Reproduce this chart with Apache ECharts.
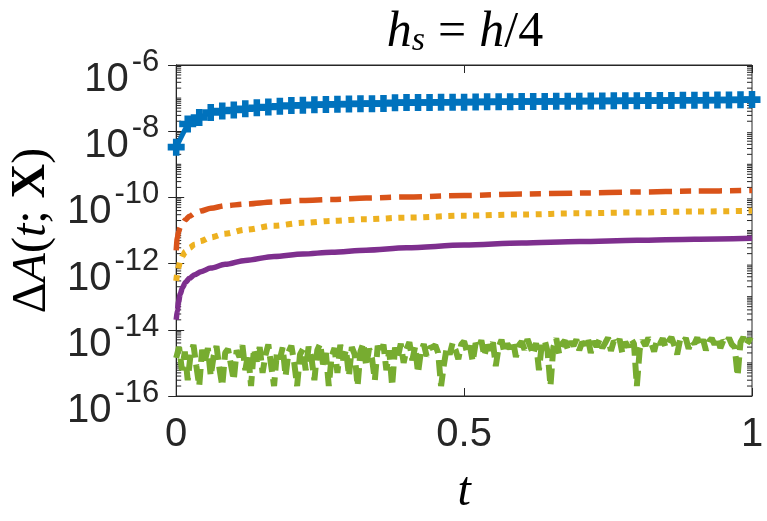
<!DOCTYPE html>
<html>
<head>
<meta charset="utf-8">
<script src="https://cdn.jsdelivr.net/npm/echarts@6/dist/echarts.min.js"></script>
<style>
html, body { margin: 0; padding: 0; background: #fff; }
#chart { width: 767px; height: 521px; }
</style>
</head>
<body>
<div id="chart"></div>
<script>
// x values (t)
const blueT = [0, 0.02, 0.04, 0.06, 0.08, 0.1, 0.12, 0.14, 0.16, 0.18, 0.2, 0.22, 0.24, 0.26, 0.28, 0.3, 0.32, 0.34, 0.36, 0.38,
  0.4, 0.42, 0.44, 0.46, 0.48, 0.5, 0.52, 0.54, 0.56, 0.58, 0.6, 0.62, 0.64, 0.66, 0.68, 0.7, 0.72, 0.74, 0.76, 0.78,
  0.8, 0.82, 0.84, 0.86, 0.88, 0.9, 0.92, 0.94, 0.96, 0.98, 1];
const smoothT = [0, 0.002, 0.004, 0.007, 0.011, 0.016, 0.023, 0.032, 0.043, 0.06, 0.085, 0.12, 0.17, 0.22, 0.27, 0.33, 0.4, 0.5, 0.6, 0.7, 0.8, 0.9, 1];
const greenT = [
  0, 0.005, 0.01, 0.015, 0.02, 0.025, 0.03, 0.035, 0.04, 0.045, 0.05, 0.055, 0.06, 0.065, 0.07, 0.075, 0.08, 0.085, 0.09, 0.095,
  0.1, 0.105, 0.11, 0.115, 0.12, 0.125, 0.13, 0.135, 0.14, 0.145, 0.15, 0.155, 0.16, 0.165, 0.17, 0.175, 0.18, 0.185, 0.19, 0.195,
  0.2, 0.205, 0.21, 0.215, 0.22, 0.225, 0.23, 0.235, 0.24, 0.245, 0.25, 0.255, 0.26, 0.265, 0.27, 0.275, 0.28, 0.285, 0.29, 0.295,
  0.3, 0.305, 0.31, 0.315, 0.32, 0.325, 0.33, 0.335, 0.34, 0.345, 0.35, 0.355, 0.36, 0.365, 0.37, 0.375, 0.38, 0.385, 0.39, 0.395,
  0.4, 0.405, 0.41, 0.415, 0.42, 0.425, 0.43, 0.435, 0.44, 0.445, 0.45, 0.455, 0.46, 0.465, 0.47, 0.475, 0.48, 0.485, 0.49, 0.495,
  0.5, 0.505, 0.51, 0.515, 0.52, 0.525, 0.53, 0.535, 0.54, 0.545, 0.55, 0.555, 0.56, 0.565, 0.57, 0.575, 0.58, 0.585, 0.59, 0.595,
  0.6, 0.605, 0.61, 0.615, 0.62, 0.625, 0.63, 0.635, 0.64, 0.645, 0.65, 0.655, 0.66, 0.665, 0.67, 0.675, 0.68, 0.685, 0.69, 0.695,
  0.7, 0.705, 0.71, 0.715, 0.72, 0.725, 0.73, 0.735, 0.74, 0.745, 0.75, 0.755, 0.76, 0.765, 0.77, 0.775, 0.78, 0.785, 0.79, 0.795,
  0.8, 0.805, 0.81, 0.815, 0.82, 0.825, 0.83, 0.835, 0.84, 0.845, 0.85, 0.855, 0.86, 0.865, 0.87, 0.875, 0.88, 0.885, 0.89, 0.895,
  0.9, 0.905, 0.91, 0.915, 0.92, 0.925, 0.93, 0.935, 0.94, 0.945, 0.95, 0.955, 0.96, 0.965, 0.97, 0.975, 0.98, 0.985, 0.99, 0.995,
  1];

// series values
const blue = [3.3e-9, 1.64e-8, 2.6e-8, 3.65e-8, 4.07e-8, 4.37e-8, 4.8e-8, 5.1e-8, 5.35e-8, 5.7e-8, 6.0e-8, 6.1e-8, 6.3e-8, 6.45e-8, 6.5e-8, 6.6e-8, 6.75e-8, 6.8e-8, 6.9e-8, 7.2e-8,
  7.3e-8, 7.35e-8, 7.4e-8, 7.45e-8, 7.5e-8, 7.55e-8, 7.6e-8, 7.7e-8, 7.75e-8, 7.8e-8, 7.85e-8, 7.9e-8, 7.95e-8, 8.0e-8, 8.05e-8, 8.1e-8, 8.15e-8, 8.2e-8, 8.25e-8, 8.3e-8,
  8.35e-8, 8.4e-8, 8.45e-8, 8.5e-8, 8.55e-8, 8.6e-8, 8.65e-8, 8.7e-8, 8.8e-8, 8.9e-8, 9.0e-8];
const orange = [2.5e-12, 6.0e-12, 9.0e-12, 1.25e-11, 1.65e-11, 2.1e-11, 2.7e-11, 3.3e-11, 3.9e-11, 4.7e-11, 5.6e-11, 6.3e-11, 7.3e-11, 8.1e-11, 8.65e-11, 9.6e-11, 1.03e-10, 1.14e-10, 1.26e-10, 1.35e-10, 1.45e-10, 1.55e-10, 1.63e-10];
const yellow = [3.0e-13, 5.0e-13, 7.8e-13, 1.2e-12, 1.7e-12, 2.3e-12, 3.0e-12, 3.8e-12, 4.8e-12, 6.2e-12, 8.0e-12, 1.05e-11, 1.4e-11, 1.7e-11, 1.95e-11, 2.2e-11, 2.45e-11, 2.8e-11, 3.05e-11, 3.3e-11, 3.5e-11, 3.75e-11, 3.95e-11];
const purple = [2.0e-14, 3.8e-14, 7.0e-14, 1.2e-13, 1.9e-13, 2.7e-13, 3.6e-13, 4.6e-13, 5.7e-13, 7.3e-13, 9.5e-13, 1.25e-12, 1.65e-12, 1.95e-12, 2.2e-12, 2.55e-12, 3.0e-12, 3.65e-12, 4.2e-12, 4.65e-12, 5.05e-12, 5.45e-12, 5.8e-12];
// green noise floor, in units of 1e-16
const greenE16 = [
  14, 30, 6, 22, 3, 18, 35, 8, 2, 25, 12, 28, 4, 16, 32, 7, 2, 20, 26, 9,
  3, 24, 15, 34, 6, 19, 2, 27, 11, 30, 5, 17, 36, 8, 2, 22, 13, 29, 4, 21,
  33, 10, 2, 18, 26, 6, 31, 14, 3, 24, 38, 9, 20, 2, 16, 28, 5, 35, 12, 25,
  4, 30, 18, 2, 22, 40, 8, 27, 14, 3, 33, 19, 36, 6, 24, 2, 29, 15, 38, 10,
  26, 42, 12, 31, 5, 22, 37, 16, 28, 30, 34, 20, 2, 9, 30, 18, 40, 25, 13, 36,
  45, 21, 33, 11, 39, 28, 48, 16, 35, 24, 42, 8, 30, 50, 20, 38, 27, 46, 15, 34,
  44, 25, 52, 31, 18, 40, 6, 36, 48, 22, 2, 30, 55, 19, 38, 47, 26, 44, 33, 51,
  24, 42, 35, 56, 20, 45, 31, 50, 28, 40, 58, 23, 46, 36, 52, 19, 43, 30, 54, 38,
  2, 25, 48, 33, 57, 40, 22, 50, 37, 55, 29, 45, 60, 34, 18, 49, 41, 56, 27, 47,
  38, 58, 32, 51, 24, 44, 55, 36, 60, 28, 47, 39, 57, 36, 30, 4, 42, 59, 35, 50,
  45];

// tick labels
const xTickLabels = { 0: '0', 0.5: '0.5', 1: '1' };
const yDecades = [-16, -15, -14, -13, -12, -11, -10, -9, -8, -7, -6];

const axisColor = '#262626';
const sansFont = 'Liberation Sans';
const serifFont = 'Liberation Serif';

function pairs(ts, vs, unit) {
  return ts.map((t, i) => [t, vs[i] * (unit || 1)]);
}

// log-spaced minor ticks (2..9 in each decade, plus unlabeled odd decades)
const minorTicks = [];
yDecades.forEach(function (e) {
  if (e === -6) return;
  if (e % 2 !== 0) minorTicks.push([0, Math.pow(10, e)]);
  for (let k = 2; k <= 9; k++) minorTicks.push([0, k * Math.pow(10, e)]);
});

const chart = echarts.init(document.getElementById('chart'));

const plusSymbol = 'path://M4,0H9V4H13V9H9V13H4V9H0V4H4Z';

const option = {
  animation: false,
  backgroundColor: '#fff',
  title: {
    text: '{i|h}{sub|s}{eq|=}{i|h}{n|/4}',
    left: 460,
    top: 3,
    textAlign: 'center',
    textStyle: {
      rich: {
        i: { fontFamily: serifFont, fontStyle: 'italic', fontWeight: 'normal', fontSize: 50, color: '#000', lineHeight: 50, padding: [0, 0, 10, 0], verticalAlign: 'top' },
        n: { fontFamily: serifFont, fontWeight: 'normal', fontSize: 50, color: '#000', lineHeight: 50, padding: [0, 0, 10, 0], verticalAlign: 'top' },
        eq: { fontFamily: serifFont, fontWeight: 'normal', fontSize: 50, color: '#000', lineHeight: 50, padding: [0, 13, 10, 13], verticalAlign: 'top' },
        sub: { fontFamily: serifFont, fontStyle: 'italic', fontWeight: 'normal', fontSize: 34, color: '#000', lineHeight: 34, verticalAlign: 'bottom' }
      }
    }
  },
  grid: {
    left: 172,
    right: 15,
    top: 65,
    bottom: 120,
    show: true,
    borderColor: axisColor,
    borderWidth: 1,
    backgroundColor: 'transparent'
  },
  xAxis: [
    {
      type: 'value',
      min: 0,
      max: 1,
      interval: 0.5,
      position: 'bottom',
      name: 't',
      nameLocation: 'middle',
      nameGap: 72,
      nameTextStyle: { fontFamily: serifFont, fontStyle: 'italic', fontSize: 48, color: '#000' },
      axisLine: { lineStyle: { color: axisColor, width: 1 } },
      axisTick: { inside: true, length: 8, lineStyle: { color: axisColor } },
      axisLabel: {
        fontFamily: sansFont,
        fontSize: 40,
        color: axisColor,
        margin: 19,
        formatter: function (v) { return xTickLabels[v] !== undefined ? xTickLabels[v] : ''; }
      },
      splitLine: { show: false }
    },
    {
      type: 'value',
      min: 0,
      max: 1,
      interval: 0.5,
      position: 'top',
      axisLine: { lineStyle: { color: axisColor, width: 1 } },
      axisTick: { inside: true, length: 8, lineStyle: { color: axisColor } },
      axisLabel: { show: false },
      splitLine: { show: false }
    }
  ],
  yAxis: [
    {
      type: 'log',
      logBase: 10,
      min: 1e-16,
      max: 1e-6,
      interval: 2,
      position: 'left',
      name: '{n|\u0394}{i|A}{n|(}{i|t}{n|; }{b|X}{n|)}',
      nameLocation: 'middle',
      nameRotate: 90,
      nameGap: 118,
      nameTextStyle: {
        rich: {
          n: { fontFamily: serifFont, fontSize: 48, color: '#000' },
          i: { fontFamily: serifFont, fontStyle: 'italic', fontSize: 48, color: '#000' },
          b: { fontFamily: serifFont, fontWeight: 'bold', fontSize: 48, color: '#000' }
        }
      },
      axisLine: { show: true, lineStyle: { color: axisColor, width: 1 } },
      axisTick: { inside: true, length: 8, lineStyle: { color: axisColor } },
      axisLabel: {
        margin: 17,
        padding: [30, 0, 0, 0],
        formatter: function (v) {
          return '{b|10}{s|' + Math.round(Math.log10(v)) + '}';
        },
        rich: {
          b: { fontFamily: sansFont, fontSize: 40, color: axisColor, lineHeight: 40, verticalAlign: 'bottom' },
          s: { fontFamily: sansFont, fontSize: 31, color: axisColor, lineHeight: 31, padding: [0, 0, 22, 3], verticalAlign: 'bottom' }
        }
      },
      splitLine: { show: false }
    },
    {
      type: 'log',
      logBase: 10,
      min: 1e-16,
      max: 1e-6,
      interval: 2,
      position: 'right',
      axisLine: { show: true, lineStyle: { color: axisColor, width: 1 } },
      axisTick: { inside: true, length: 8, lineStyle: { color: axisColor } },
      axisLabel: { show: false },
      splitLine: { show: false }
    }
  ],
  series: [
    {
      type: 'custom',
      silent: true,
      xAxisIndex: 0,
      yAxisIndex: 0,
      data: minorTicks,
      renderItem: function (params, api) {
        const v = api.value(1);
        const l = api.coord([0, v]);
        const r = api.coord([1, v]);
        const st = { stroke: axisColor, lineWidth: 1 };
        return {
          type: 'group',
          children: [
            { type: 'line', shape: { x1: l[0], y1: l[1], x2: l[0] + 5, y2: l[1] }, style: st },
            { type: 'line', shape: { x1: r[0] - 5, y1: r[1], x2: r[0], y2: r[1] }, style: st }
          ]
        };
      }
    },
    {
      name: 'blue',
      type: 'line',
      data: pairs(blueT, blue),
      symbol: plusSymbol,
      symbolSize: 17,
      showSymbol: true,
      itemStyle: { color: '#0072BD' },
      lineStyle: { color: '#0072BD', width: 5 }
    },
    {
      name: 'orange',
      type: 'line',
      data: pairs(smoothT, orange),
      showSymbol: false,
      smooth: 0.3,
      smoothMonotone: 'x',
      lineStyle: { color: '#D95319', width: 5.5, type: [23, 8, 11, 8], cap: 'butt' }
    },
    {
      name: 'yellow',
      type: 'line',
      data: pairs(smoothT, yellow),
      showSymbol: false,
      smooth: 0.3,
      smoothMonotone: 'x',
      lineStyle: { color: '#EDB120', width: 6, type: [6, 6.5], cap: 'butt' }
    },
    {
      name: 'purple',
      type: 'line',
      data: pairs(smoothT, purple),
      showSymbol: false,
      smooth: 0.3,
      smoothMonotone: 'x',
      lineStyle: { color: '#7E2F8E', width: 5.5 }
    },
    {
      name: 'green',
      type: 'line',
      data: pairs(greenT, greenE16, 1e-16),
      showSymbol: false,
      lineStyle: { color: '#77AC30', width: 6, type: [16, 7], cap: 'butt' }
    }
  ]
};

chart.setOption(option);
</script>
</body>
</html>
